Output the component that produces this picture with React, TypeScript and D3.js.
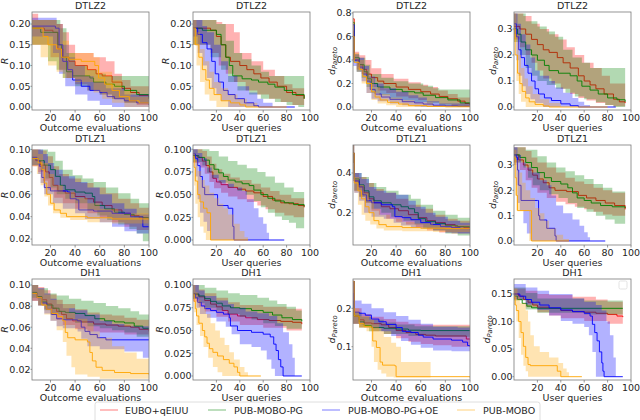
import React from "react";
import * as d3 from "d3";

type Pt = [number, number];

const METHODS = ["EUBO+qEIUU", "PUB-MOBO-PG", "PUB-MOBO-PG+OE", "PUB-MOBO"];
const LINE_COLORS = ["#ff0000", "#008000", "#0000ff", "#ffa500"];
const TITLES = ["DTLZ2", "DTLZ1", "DH1"];
const X_LABELS = ["Outcome evaluations", "User queries", "Outcome evaluations", "User queries"];
const X_TICKS = [20, 40, 60, 80, 100];

// ---- DTLZ2, outcome evaluations, R ----
const dtlz2EvalR_mean: Pt[][] = [
  [[5,.19],[15,.185],[22,.18],[26,.14],[30,.12],[35,.11],[40,.1],[50,.09],[57,.08],[62,.075],[70,.06],[78,.045],[85,.035],[92,.028],[100,.02]],
  [[5,.19],[12,.18],[26,.15],[29,.12],[33,.085],[38,.075],[52,.07],[55,.06],[65,.055],[72,.05],[80,.04],[90,.03],[100,.02]],
  [[5,.195],[24,.19],[27,.15],[30,.11],[34,.09],[38,.065],[45,.05],[52,.04],[60,.035],[66,.025],[72,.02],[80,.015],[90,.01],[100,.005]],
  [[5,.19],[14,.17],[18,.15],[25,.14],[29,.12],[35,.115],[45,.11],[56,.1],[59,.07],[64,.055],[70,.04],[76,.025],[84,.015],[92,.01],[100,.008]],
];
const dtlz2EvalR_hi: Pt[][] = [
  [[5,.225],[10,.21],[25,.2],[30,.18],[35,.15],[40,.13],[55,.12],[65,.11],[72,.08],[78,.065],[85,.05],[100,.04]],
  [[5,.21],[28,.19],[33,.13],[40,.1],[50,.09],[58,.08],[65,.075],[100,.075]],
  [[5,.215],[25,.2],[30,.15],[35,.12],[40,.1],[48,.075],[55,.06],[65,.045],[80,.03],[100,.02]],
  [[5,.21],[25,.2],[30,.16],[35,.13],[55,.12],[60,.085],[70,.065],[78,.04],[85,.025],[100,.02]],
];
const dtlz2EvalR_lo: Pt[][] = [
  [[5,.15],[20,.12],[27,.09],[33,.07],[40,.055],[50,.04],[60,.03],[70,.02],[80,.01],[90,.005],[100,0]],
  [[5,.15],[18,.11],[25,.09],[30,.07],[40,.05],[50,.04],[60,.03],[70,.02],[80,.01],[100,0]],
  [[5,.17],[22,.13],[27,.08],[32,.05],[40,.03],[50,.015],[60,.005],[70,0],[100,0]],
  [[5,.15],[12,.12],[18,.1],[25,.085],[30,.07],[40,.06],[55,.035],[62,.02],[70,.01],[80,0],[100,0]],
];

// ---- DTLZ2, user queries, R ----
const dtlz2QueryR_mean: Pt[][] = [
  [[0,.19],[15,.185],[20,.17],[24,.15],[28,.12],[32,.11],[40,.1],[46,.09],[52,.08],[58,.07],[65,.06],[72,.05],[80,.035],[88,.028],[95,.02]],
  [[0,.19],[8,.185],[20,.175],[24,.15],[28,.12],[31,.1],[34,.075],[42,.068],[50,.065],[56,.06],[64,.055],[70,.048],[78,.04],[85,.03],[95,.02]],
  [[0,.19],[4,.175],[8,.155],[12,.14],[16,.11],[19,.08],[22,.06],[26,.04],[30,.03],[36,.02],[44,.01],[52,.003],[56,0],[87,0]],
  [[0,.19],[2,.15],[5,.12],[8,.09],[11,.065],[14,.045],[18,.03],[24,.015],[32,.01],[40,.005],[45,0],[80,0]],
];
const dtlz2QueryR_hi: Pt[][] = [
  [[0,.21],[20,.205],[25,.2],[35,.18],[40,.13],[50,.11],[60,.09],[70,.075],[78,.055],[85,.045],[95,.04]],
  [[0,.21],[20,.2],[28,.16],[35,.13],[42,.115],[50,.1],[58,.085],[65,.075],[95,.075]],
  [[0,.21],[8,.195],[12,.18],[18,.15],[24,.11],[30,.075],[38,.05],[48,.035],[55,.02],[60,.01],[68,0],[87,0]],
  [[0,.21],[3,.18],[6,.14],[10,.11],[14,.085],[18,.06],[24,.045],[30,.03],[38,.02],[46,.01],[55,0],[80,0]],
];
const dtlz2QueryR_lo: Pt[][] = [
  [[0,.15],[15,.13],[22,.1],[28,.08],[35,.06],[45,.04],[55,.03],[65,.02],[75,.012],[85,.005],[95,0]],
  [[0,.15],[15,.12],[24,.09],[30,.06],[38,.04],[48,.03],[58,.02],[70,.012],[80,.005],[90,0],[95,0]],
  [[0,.17],[4,.13],[8,.1],[12,.07],[16,.045],[20,.03],[24,.015],[30,0],[87,0]],
  [[0,.15],[3,.1],[6,.06],[10,.03],[14,.015],[20,0],[80,0]],
];

// ---- DTLZ2, outcome evaluations, d_Pareto ----
const dtlz2EvalD_mean: Pt[][] = [
  [[5,.75],[6,.4],[10,.36],[13,.32],[16,.28],[20,.25],[25,.22],[30,.2],[40,.17],[50,.15],[60,.13],[68,.11],[75,.09],[82,.07],[90,.05],[96,.03],[100,.02]],
  [[5,.72],[6,.42],[10,.36],[14,.3],[17,.24],[20,.2],[25,.17],[35,.15],[45,.13],[55,.12],[62,.1],[72,.08],[82,.06],[92,.035],[100,.02]],
  [[5,.7],[6,.4],[10,.34],[13,.28],[16,.22],[19,.15],[23,.11],[28,.085],[35,.065],[45,.045],[55,.035],[62,.025],[70,.015],[80,.01],[90,.007],[100,.005]],
  [[5,.6],[6,.38],[10,.32],[13,.26],[16,.2],[20,.13],[23,.085],[27,.06],[33,.04],[42,.025],[50,.012],[65,.005],[80,.002],[100,0]],
];
const dtlz2EvalD_hi: Pt[][] = [
  [[5,.65],[6,.47],[10,.44],[15,.4],[20,.33],[28,.28],[38,.24],[50,.21],[60,.19],[66,.17],[74,.14],[82,.11],[90,.08],[100,.05]],
  [[5,.6],[6,.45],[10,.42],[15,.36],[19,.28],[28,.25],[38,.22],[50,.2],[62,.18],[70,.16],[75,.15],[100,.15]],
  [[5,.6],[6,.45],[10,.42],[14,.35],[18,.26],[23,.2],[30,.16],[40,.13],[50,.1],[58,.08],[65,.05],[75,.03],[100,.02]],
  [[5,.75],[6,.46],[10,.4],[14,.32],[18,.25],[22,.17],[27,.11],[35,.08],[45,.06],[55,.04],[70,.02],[100,.01]],
];
const dtlz2EvalD_lo: Pt[][] = [
  [[5,.4],[8,.32],[12,.28],[16,.22],[20,.17],[25,.14],[32,.12],[40,.09],[50,.075],[58,.06],[65,.04],[75,.025],[85,.01],[95,0],[100,0]],
  [[5,.38],[8,.3],[12,.25],[16,.17],[20,.12],[26,.1],[35,.07],[45,.055],[55,.04],[65,.03],[75,.015],[85,.005],[90,0],[100,0]],
  [[5,.35],[8,.3],[12,.22],[16,.12],[20,.07],[25,.05],[35,.03],[45,.015],[55,.005],[60,0],[100,0]],
  [[5,.4],[8,.3],[12,.2],[16,.12],[20,.06],[25,.03],[32,.015],[40,0],[100,0]],
];

// ---- DTLZ2, user queries, d_Pareto ----
const dtlz2QueryD_mean: Pt[][] = [
  [[0,.31],[5,.3],[10,.28],[15,.26],[20,.24],[25,.22],[30,.21],[37,.19],[42,.17],[48,.15],[55,.12],[60,.1],[65,.085],[70,.07],[77,.05],[85,.03],[90,.02],[95,.015]],
  [[0,.3],[3,.28],[6,.25],[10,.22],[15,.2],[20,.18],[26,.16],[30,.14],[38,.13],[48,.12],[54,.1],[58,.08],[65,.065],[72,.05],[80,.035],[88,.028],[95,.02]],
  [[0,.32],[2,.27],[4,.22],[6,.19],[9,.16],[12,.13],[15,.1],[18,.07],[21,.05],[26,.035],[32,.025],[40,.012],[48,.005],[55,0],[87,0]],
  [[0,.3],[1,.2],[3,.13],[5,.09],[7,.06],[10,.035],[13,.02],[18,.01],[25,.004],[30,0],[80,0]],
];
const dtlz2QueryD_hi: Pt[][] = [
  [[0,.36],[8,.35],[15,.32],[22,.3],[30,.28],[38,.26],[45,.23],[52,.2],[60,.17],[68,.15],[75,.12],[82,.09],[95,.08]],
  [[0,.36],[10,.33],[20,.31],[28,.29],[35,.27],[42,.22],[50,.19],[58,.17],[65,.15],[95,.15]],
  [[0,.36],[3,.32],[6,.28],[10,.24],[14,.19],[18,.14],[22,.12],[30,.1],[35,.075],[42,.055],[50,.035],[55,.02],[60,.008],[65,0],[87,0]],
  [[0,.36],[2,.28],[4,.2],[6,.15],[9,.11],[12,.08],[16,.05],[22,.03],[30,.015],[40,0],[80,0]],
];
const dtlz2QueryD_lo: Pt[][] = [
  [[0,.26],[5,.23],[10,.2],[15,.17],[20,.14],[25,.11],[32,.09],[40,.07],[48,.05],[55,.035],[62,.025],[70,.015],[78,.008],[85,.003],[95,0]],
  [[0,.25],[5,.2],[10,.15],[15,.12],[20,.1],[28,.085],[36,.07],[44,.055],[52,.04],[60,.03],[70,.018],[78,.008],[85,0],[95,0]],
  [[0,.28],[2,.18],[4,.12],[7,.08],[10,.05],[14,.03],[18,.015],[25,0],[87,0]],
  [[0,.25],[2,.1],[4,.05],[6,.02],[10,0],[80,0]],
];

// ---- DTLZ1, outcome evaluations, R ----
const dtlz1EvalR_mean: Pt[][] = [
  [[5,.092],[8,.09],[12,.086],[16,.08],[19,.075],[22,.068],[26,.063],[32,.061],[40,.058],[48,.056],[55,.053],[62,.05],[70,.046],[78,.043],[85,.041],[92,.039],[100,.037]],
  [[5,.092],[10,.09],[15,.086],[20,.082],[24,.076],[28,.068],[32,.064],[40,.062],[48,.061],[54,.058],[56,.05],[64,.047],[72,.044],[80,.042],[88,.04],[95,.039],[100,.037]],
  [[5,.093],[9,.09],[11,.085],[13,.075],[15,.066],[20,.063],[34,.062],[36,.056],[41,.055],[43,.046],[55,.045],[70,.043],[85,.04],[95,.031],[100,.031]],
  [[5,.092],[10,.088],[13,.082],[15,.07],[17,.06],[20,.052],[23,.046],[28,.043],[33,.04],[50,.039],[70,.038],[100,.037]],
];
const dtlz1EvalR_hi: Pt[][] = [
  [[5,.1],[12,.099],[17,.094],[22,.085],[27,.078],[35,.074],[45,.07],[55,.066],[65,.061],[75,.056],[85,.052],[92,.048],[100,.045]],
  [[5,.1],[18,.098],[24,.09],[30,.082],[38,.077],[46,.074],[55,.071],[65,.066],[75,.061],[85,.056],[92,.052],[100,.05]],
  [[5,.1],[14,.096],[18,.088],[23,.082],[30,.076],[40,.071],[50,.066],[60,.06],[70,.052],[80,.047],[90,.042],[100,.038]],
  [[5,.1],[10,.096],[14,.088],[18,.078],[23,.068],[30,.062],[40,.057],[50,.052],[60,.047],[75,.043],[100,.041]],
];
const dtlz1EvalR_lo: Pt[][] = [
  [[5,.085],[10,.08],[14,.072],[18,.064],[23,.057],[30,.052],[40,.047],[50,.043],[60,.039],[70,.035],[80,.031],[90,.028],[100,.025]],
  [[5,.086],[12,.081],[16,.074],[20,.066],[25,.06],[32,.056],[40,.052],[50,.046],[58,.041],[66,.037],[75,.033],[84,.029],[90,.025],[95,.018],[100,.015]],
  [[5,.086],[10,.078],[12,.07],[15,.06],[22,.052],[30,.047],[40,.043],[48,.038],[60,.035],[70,.031],[80,.027],[90,.025],[100,.024]],
  [[5,.085],[9,.078],[12,.068],[15,.058],[18,.05],[22,.043],[28,.039],[36,.037],[50,.035],[70,.034],[100,.033]],
];

// ---- DTLZ1, user queries, R ----
const dtlz1QueryR_mean: Pt[][] = [
  [[0,.093],[4,.091],[8,.087],[11,.082],[14,.075],[17,.068],[20,.064],[24,.061],[30,.058],[38,.056],[45,.054],[52,.052],[60,.048],[68,.044],[75,.041],[82,.04],[90,.038],[95,.036]],
  [[0,.093],[5,.091],[10,.088],[14,.083],[18,.078],[22,.074],[26,.07],[30,.066],[36,.064],[42,.062],[48,.06],[52,.055],[58,.05],[64,.046],[70,.043],[78,.041],[86,.039],[95,.037]],
  [[0,.095],[2,.09],[4,.082],[6,.07],[8,.058],[10,.05],[21,.038],[30,.035],[34,.015],[35,0],[78,0]],
  [[0,.092],[1,.08],[2,.065],[4,.05],[6,.042],[9,.035],[12,.03],[15,0],[47,0]],
];
const dtlz1QueryR_hi: Pt[][] = [
  [[0,.1],[8,.098],[12,.092],[16,.084],[20,.078],[25,.073],[32,.069],[40,.066],[50,.062],[58,.058],[66,.054],[74,.05],[84,.046],[95,.043]],
  [[0,.1],[14,.098],[22,.092],[30,.087],[38,.083],[46,.079],[55,.075],[62,.07],[70,.063],[78,.058],[86,.053],[95,.05]],
  [[0,.1],[4,.096],[8,.09],[12,.08],[16,.072],[22,.066],[28,.062],[35,.058],[42,.054],[46,.045],[52,.035],[56,.025],[60,.018],[63,.008],[65,0],[78,0]],
  [[0,.096],[2,.088],[4,.076],[7,.066],[10,.06],[14,.052],[18,.046],[22,.04],[26,.035],[30,.028],[35,.018],[40,.01],[44,.003],[47,0]],
];
const dtlz1QueryR_lo: Pt[][] = [
  [[0,.085],[6,.08],[10,.073],[14,.064],[18,.057],[24,.052],[30,.048],[38,.045],[46,.042],[55,.038],[62,.034],[70,.03],[78,.027],[86,.025],[95,.023]],
  [[0,.086],[8,.082],[12,.074],[16,.068],[22,.063],[30,.058],[38,.054],[45,.05],[52,.043],[58,.036],[64,.03],[70,.026],[76,.022],[82,.019],[88,.013],[95,.012]],
  [[0,.09],[2,.07],[4,.045],[6,.03],[9,.02],[12,.01],[15,0],[78,0]],
  [[0,.09],[1,.06],[2,.04],[4,.025],[6,.015],[9,.008],[11,0],[47,0]],
];

// ---- DTLZ1, outcome evaluations, d_Pareto ----
const dtlz1EvalD_mean: Pt[][] = [
  [[5,.5],[6,.36],[10,.33],[14,.3],[18,.27],[22,.25],[28,.23],[35,.22],[42,.21],[50,.19],[58,.175],[65,.16],[72,.15],[80,.14],[88,.13],[95,.125],[100,.12]],
  [[5,.5],[6,.37],[10,.34],[14,.31],[18,.28],[22,.26],[28,.25],[36,.24],[44,.23],[50,.22],[55,.2],[58,.17],[64,.155],[72,.145],[80,.135],[90,.13],[100,.12]],
  [[5,.5],[6,.36],[10,.33],[13,.29],[16,.26],[20,.25],[28,.24],[37,.23],[39,.18],[45,.175],[52,.165],[60,.15],[68,.14],[76,.13],[85,.125],[92,.12],[100,.115]],
  [[5,.5],[6,.35],[9,.31],[12,.27],[15,.23],[18,.2],[22,.16],[26,.14],[32,.13],[45,.125],[60,.122],[80,.12],[100,.118]],
];
const dtlz1EvalD_hi: Pt[][] = [
  [[5,.55],[6,.4],[10,.38],[16,.35],[22,.32],[30,.3],[40,.27],[50,.24],[60,.22],[70,.19],[80,.17],[90,.16],[100,.15]],
  [[5,.55],[6,.4],[12,.38],[18,.35],[24,.33],[32,.31],[42,.29],[52,.27],[60,.24],[70,.21],[80,.19],[90,.175],[100,.165]],
  [[5,.55],[6,.4],[12,.37],[18,.33],[24,.31],[32,.3],[40,.29],[50,.26],[56,.23],[64,.2],[72,.18],[82,.16],[92,.15],[100,.14]],
  [[5,.55],[6,.38],[10,.34],[14,.3],[18,.26],[22,.22],[27,.19],[35,.17],[45,.155],[55,.145],[70,.138],[100,.13]],
];
const dtlz1EvalD_lo: Pt[][] = [
  [[5,.45],[6,.31],[10,.28],[15,.25],[20,.21],[26,.19],[32,.17],[40,.155],[48,.14],[56,.125],[65,.11],[75,.1],[85,.095],[100,.09]],
  [[5,.45],[6,.31],[10,.28],[15,.25],[20,.22],[28,.2],[36,.18],[46,.16],[55,.14],[62,.12],[70,.11],[80,.095],[90,.085],[100,.08]],
  [[5,.45],[6,.3],[10,.26],[14,.2],[20,.18],[30,.17],[38,.15],[44,.135],[52,.125],[60,.12],[70,.11],[80,.1],[90,.095],[100,.09]],
  [[5,.45],[6,.3],[9,.24],[12,.19],[15,.16],[19,.14],[24,.12],[30,.11],[45,.106],[70,.103],[100,.1]],
];

// ---- DTLZ1, user queries, d_Pareto ----
const dtlz1QueryD_mean: Pt[][] = [
  [[0,.34],[4,.32],[8,.3],[12,.28],[16,.26],[20,.245],[25,.23],[30,.21],[35,.2],[45,.195],[55,.18],[62,.17],[70,.16],[78,.15],[86,.14],[95,.125]],
  [[0,.34],[5,.33],[10,.31],[15,.29],[20,.27],[26,.25],[32,.235],[40,.225],[46,.21],[50,.19],[54,.17],[60,.16],[66,.15],[74,.14],[84,.135],[95,.13]],
  [[0,.34],[2,.33],[3,.28],[4,.22],[6,.16],[20,.16],[21,.1],[22,.083],[28,.05],[35,.02],[36,0],[78,0]],
  [[0,.33],[1,.25],[2,.18],[3,.12],[13,.12],[15,0],[47,0]],
];
const dtlz1QueryD_hi: Pt[][] = [
  [[0,.37],[10,.355],[15,.33],[20,.31],[28,.29],[36,.27],[44,.25],[52,.235],[60,.225],[68,.21],[76,.2],[84,.19],[95,.18]],
  [[0,.37],[10,.36],[20,.335],[28,.31],[36,.29],[44,.275],[52,.26],[60,.245],[68,.225],[76,.21],[84,.195],[95,.18]],
  [[0,.37],[3,.34],[6,.31],[10,.29],[15,.27],[22,.24],[28,.22],[32,.18],[36,.14],[42,.11],[50,.085],[56,.06],[60,.035],[63,.015],[65,0],[78,0]],
  [[0,.36],[2,.32],[4,.27],[7,.23],[10,.2],[14,.17],[18,.13],[22,.11],[26,.08],[30,.05],[36,.025],[42,.008],[47,0]],
];
const dtlz1QueryD_lo: Pt[][] = [
  [[0,.31],[5,.28],[10,.24],[15,.21],[20,.19],[28,.17],[36,.155],[44,.145],[52,.135],[60,.125],[68,.115],[76,.105],[84,.1],[95,.09]],
  [[0,.31],[8,.29],[12,.25],[16,.22],[22,.2],[30,.185],[38,.17],[46,.15],[54,.13],[62,.115],[70,.1],[78,.085],[86,.068],[95,.055]],
  [[0,.3],[2,.22],[3,.15],[5,.12],[8,.07],[11,.03],[14,.005],[15,0],[78,0]],
  [[0,.3],[1,.18],[2,.12],[12,.12],[13,0],[47,0]],
];

// ---- DH1, outcome evaluations, R ----
const dh1EvalR_mean: Pt[][] = [
  [[5,.092],[9,.089],[13,.086],[17,.082],[21,.078],[25,.075],[29,.072],[33,.068],[38,.066],[45,.065],[55,.063],[65,.062],[75,.061],[85,.06],[92,.058],[100,.056]],
  [[5,.093],[9,.089],[13,.084],[17,.081],[22,.078],[27,.075],[32,.074],[40,.073],[48,.071],[56,.068],[64,.066],[72,.065],[80,.064],[88,.061],[95,.059],[100,.058]],
  [[5,.092],[9,.088],[13,.083],[17,.077],[21,.072],[25,.068],[30,.067],[42,.066],[45,.06],[48,.056],[52,.053],[58,.05],[65,.048],[100,.048]],
  [[5,.092],[9,.088],[13,.081],[17,.077],[21,.073],[26,.07],[30,.066],[32,.055],[34,.05],[40,.048],[50,.046],[52,.036],[54,.028],[57,.022],[62,.019],[72,.017],[85,.016],[100,.015]],
];
const dh1EvalR_hi: Pt[][] = [
  [[5,.1],[10,.098],[15,.095],[20,.091],[25,.086],[30,.082],[40,.077],[50,.074],[60,.072],[70,.071],[80,.069],[90,.067],[100,.066]],
  [[5,.1],[10,.097],[18,.092],[25,.09],[35,.087],[45,.085],[55,.083],[65,.08],[75,.078],[85,.075],[92,.072],[100,.07]],
  [[5,.1],[10,.097],[15,.092],[20,.087],[25,.082],[30,.078],[40,.076],[50,.072],[60,.066],[70,.063],[80,.061],[100,.06]],
  [[5,.1],[10,.096],[15,.091],[20,.086],[25,.082],[30,.078],[35,.074],[40,.068],[50,.064],[55,.056],[60,.05],[70,.042],[80,.036],[90,.03],[100,.026]],
];
const dh1EvalR_lo: Pt[][] = [
  [[5,.085],[10,.081],[15,.077],[20,.072],[25,.067],[30,.062],[40,.058],[50,.056],[60,.055],[80,.053],[100,.05]],
  [[5,.088],[10,.081],[15,.076],[20,.072],[30,.067],[40,.064],[50,.061],[60,.059],[70,.057],[80,.055],[90,.051],[100,.048]],
  [[5,.085],[10,.08],[15,.073],[20,.066],[25,.061],[30,.059],[42,.056],[45,.049],[50,.042],[60,.039],[80,.037],[95,.031],[100,.03]],
  [[5,.085],[10,.08],[15,.072],[20,.066],[25,.057],[30,.046],[33,.033],[37,.022],[40,.015],[50,.013],[60,.011],[100,.011]],
];

// ---- DH1, user queries, R ----
const dh1QueryR_mean: Pt[][] = [
  [[0,.09],[5,.087],[10,.083],[15,.079],[20,.076],[25,.072],[30,.068],[38,.066],[45,.064],[55,.062],[65,.061],[75,.06],[85,.059],[93,.057]],
  [[0,.09],[5,.088],[10,.085],[15,.082],[20,.08],[25,.077],[32,.075],[40,.074],[50,.072],[60,.07],[68,.067],[76,.064],[85,.062],[93,.06]],
  [[0,.09],[2,.086],[4,.081],[7,.077],[10,.074],[15,.072],[20,.07],[26,.068],[31,.064],[32,.055],[38,.05],[50,.048],[60,.046],[66,.043],[69,.035],[71,.028],[73,.018],[75,.01],[77,0],[93,0]],
  [[0,.09],[1,.082],[2,.074],[3,.066],[5,.058],[8,.05],[10,.043],[12,.036],[14,.03],[17,.026],[21,.022],[26,.018],[31,.014],[35,.01],[38,.004],[40,0],[58,0]],
];
const dh1QueryR_hi: Pt[][] = [
  [[0,.1],[5,.095],[10,.091],[20,.086],[30,.081],[40,.078],[60,.076],[80,.074],[93,.071]],
  [[0,.1],[10,.097],[20,.094],[30,.091],[40,.089],[55,.086],[65,.083],[72,.079],[80,.076],[88,.072],[93,.07]],
  [[0,.1],[5,.094],[10,.088],[20,.083],[30,.079],[35,.075],[45,.071],[55,.069],[65,.066],[72,.058],[77,.048],[82,.035],[85,.02],[87,0],[93,0]],
  [[0,.1],[2,.092],[4,.083],[7,.076],[11,.068],[15,.058],[19,.05],[23,.042],[27,.034],[31,.026],[35,.018],[40,.01],[44,.004],[47,0],[58,0]],
];
const dh1QueryR_lo: Pt[][] = [
  [[0,.082],[5,.076],[10,.071],[20,.065],[30,.06],[40,.056],[60,.053],[80,.05],[93,.048]],
  [[0,.085],[5,.08],[10,.075],[20,.072],[30,.068],[40,.065],[50,.062],[60,.058],[70,.055],[80,.052],[93,.05]],
  [[0,.085],[3,.075],[6,.068],[12,.064],[20,.06],[28,.054],[33,.046],[40,.035],[50,.032],[58,.028],[63,.018],[67,.008],[70,0],[93,0]],
  [[0,.085],[1,.07],[3,.056],[6,.044],[9,.032],[13,.02],[17,.01],[21,.004],[25,0],[58,0]],
];

// ---- DH1, outcome evaluations, d_Pareto ----
const dh1EvalD_mean: Pt[][] = [
  [[5,.27],[6,.18],[10,.17],[14,.162],[20,.16],[28,.157],[34,.15],[40,.142],[48,.137],[56,.132],[64,.13],[72,.128],[96,.128],[97,.12],[100,.12]],
  [[5,.27],[6,.18],[10,.165],[14,.155],[20,.15],[30,.148],[40,.146],[50,.143],[60,.142],[100,.142]],
  [[5,.27],[6,.19],[10,.187],[15,.182],[20,.172],[26,.165],[32,.158],[40,.15],[45,.14],[52,.137],[58,.13],[62,.125],[70,.12],[85,.117],[94,.112],[98,.103],[100,.1]],
  [[5,.27],[6,.18],[10,.16],[14,.152],[20,.15],[21,.115],[24,.098],[27,.06],[29,.052],[39,.05],[40,.022],[100,.02]],
];
const dh1EvalD_hi: Pt[][] = [
  [[5,.27],[6,.2],[12,.185],[20,.178],[30,.172],[40,.165],[50,.16],[60,.157],[100,.155]],
  [[5,.22],[6,.19],[12,.178],[20,.17],[30,.163],[40,.158],[55,.153],[100,.15]],
  [[5,.24],[6,.22],[12,.212],[20,.2],[30,.19],[40,.18],[50,.17],[60,.16],[70,.152],[90,.15],[100,.143]],
  [[5,.2],[10,.18],[18,.17],[22,.16],[26,.14],[30,.125],[36,.11],[40,.1],[44,.06],[67,.06],[68,.02],[100,.02]],
];
const dh1EvalD_lo: Pt[][] = [
  [[5,.16],[10,.15],[20,.14],[30,.133],[40,.122],[50,.113],[60,.107],[70,.104],[85,.1],[100,.095]],
  [[5,.16],[10,.15],[18,.14],[30,.133],[50,.128],[70,.126],[100,.125]],
  [[5,.16],[12,.157],[20,.148],[28,.14],[36,.128],[44,.115],[52,.105],[60,.097],[70,.09],[85,.088],[100,.085]],
  [[5,.16],[10,.15],[16,.14],[20,.1],[22,.06],[25,.04],[28,.03],[32,.022],[38,.02],[100,.02]],
];

// ---- DH1, user queries, d_Pareto ----
const dh1QueryD_mean: Pt[][] = [
  [[0,.15],[4,.146],[8,.14],[12,.135],[16,.13],[20,.126],[30,.124],[40,.12],[50,.118],[60,.117],[70,.115],[80,.113],[88,.11],[93,.108]],
  [[0,.146],[3,.14],[7,.133],[11,.128],[15,.125],[20,.124],[93,.124]],
  [[0,.15],[5,.146],[10,.14],[15,.135],[22,.13],[30,.125],[40,.121],[50,.118],[60,.115],[65,.11],[67,.095],[69,.08],[71,.065],[73,.045],[75,.025],[76,.01],[77,0],[93,0]],
  [[0,.145],[1,.13],[2,.12],[4,.1],[6,.08],[8,.055],[10,.035],[12,.022],[14,.02],[35,.02],[37,.01],[40,0],[58,0]],
];
const dh1QueryD_hi: Pt[][] = [
  [[0,.16],[10,.156],[20,.15],[30,.148],[50,.145],[70,.14],[80,.136],[93,.132]],
  [[0,.162],[10,.152],[20,.142],[60,.138],[93,.135]],
  [[0,.168],[10,.162],[20,.156],[30,.15],[50,.142],[60,.136],[70,.13],[75,.12],[79,.1],[82,.075],[85,.035],[87,0],[93,0]],
  [[0,.16],[3,.145],[5,.133],[10,.12],[12,.1],[14,.075],[17,.055],[22,.045],[30,.035],[38,.025],[42,.015],[45,.008],[47,0],[58,0]],
];
const dh1QueryD_lo: Pt[][] = [
  [[0,.14],[10,.126],[20,.117],[30,.111],[40,.106],[60,.101],[80,.096],[93,.092]],
  [[0,.138],[10,.122],[20,.116],[60,.113],[93,.11]],
  [[0,.14],[10,.131],[20,.121],[30,.111],[40,.101],[50,.096],[60,.09],[64,.075],[67,.045],[70,0],[93,0]],
  [[0,.13],[2,.1],[4,.07],[6,.04],[8,.02],[10,.01],[12,0],[58,0]],
];

type PanelDef = {
  row: number;
  col: number;
  yDomain: [number, number];
  yTicks: number[];
  fmt: string;
  mean: Pt[][];
  hi: Pt[][];
  lo: Pt[][];
};

const PANELS: PanelDef[] = [
  { row: 0, col: 0, yDomain: [-0.0072, 0.229], yTicks: [0, 0.05, 0.1, 0.15, 0.2], fmt: ".2f", mean: dtlz2EvalR_mean, hi: dtlz2EvalR_hi, lo: dtlz2EvalR_lo },
  { row: 0, col: 1, yDomain: [-0.0072, 0.229], yTicks: [0, 0.05, 0.1, 0.15, 0.2], fmt: ".2f", mean: dtlz2QueryR_mean, hi: dtlz2QueryR_hi, lo: dtlz2QueryR_lo },
  { row: 0, col: 2, yDomain: [-0.0255, 0.8085], yTicks: [0, 0.2, 0.4, 0.6, 0.8], fmt: ".1f", mean: dtlz2EvalD_mean, hi: dtlz2EvalD_hi, lo: dtlz2EvalD_lo },
  { row: 0, col: 3, yDomain: [-0.0115, 0.3654], yTicks: [0, 0.1, 0.2, 0.3], fmt: ".1f", mean: dtlz2QueryD_mean, hi: dtlz2QueryD_hi, lo: dtlz2QueryD_lo },
  { row: 1, col: 0, yDomain: [0.0147, 0.104], yTicks: [0.02, 0.04, 0.06, 0.08, 0.1], fmt: ".2f", mean: dtlz1EvalR_mean, hi: dtlz1EvalR_hi, lo: dtlz1EvalR_lo },
  { row: 1, col: 1, yDomain: [-0.0055, 0.1047], yTicks: [0, 0.025, 0.05, 0.075, 0.1], fmt: ".3f", mean: dtlz1QueryR_mean, hi: dtlz1QueryR_hi, lo: dtlz1QueryR_lo },
  { row: 1, col: 2, yDomain: [0.0373, 0.541], yTicks: [0.2, 0.4], fmt: ".1f", mean: dtlz1EvalD_mean, hi: dtlz1EvalD_hi, lo: dtlz1EvalD_lo },
  { row: 1, col: 3, yDomain: [-0.0158, 0.379], yTicks: [0, 0.1, 0.2, 0.3], fmt: ".1f", mean: dtlz1QueryD_mean, hi: dtlz1QueryD_hi, lo: dtlz1QueryD_lo },
  { row: 2, col: 0, yDomain: [0.0099, 0.1057], yTicks: [0.02, 0.04, 0.06, 0.08, 0.1], fmt: ".2f", mean: dh1EvalR_mean, hi: dh1EvalR_hi, lo: dh1EvalR_lo },
  { row: 2, col: 1, yDomain: [-0.0044, 0.1066], yTicks: [0, 0.025, 0.05, 0.075, 0.1], fmt: ".3f", mean: dh1QueryR_mean, hi: dh1QueryR_hi, lo: dh1QueryR_lo },
  { row: 2, col: 2, yDomain: [0.0133, 0.2763], yTicks: [0.1, 0.2], fmt: ".1f", mean: dh1EvalD_mean, hi: dh1EvalD_hi, lo: dh1EvalD_lo },
  { row: 2, col: 3, yDomain: [-0.006, 0.1772], yTicks: [0, 0.05, 0.1, 0.15], fmt: ".2f", mean: dh1QueryD_mean, hi: dh1QueryD_hi, lo: dh1QueryD_lo },
];

// layout
const W = 640;
const H = 420;
const COL_X = [32, 193, 353, 514];
const PANEL_W = 117;
const ROW_TOP = [12, 145, 279];
const ROW_BOTTOM = [110, 245, 380];
const FONT = "DejaVu Sans, sans-serif";
const FS = 9.5;
const TEXT = "#262626";
const SPINE = "#7a7a7a";

const stepAt = (pts: Pt[], x: number) => {
  let v = pts[0][1];
  for (const p of pts) {
    if (p[0] <= x) v = p[1];
    else break;
  }
  return v;
};

// rough DejaVu Sans width of a numeric label
const labelWidth = (s: string) =>
  s.split("").reduce((a, c) => a + (c === "." ? 0.318 : 0.636), 0) * FS;

function Panel({ p, idx }: { p: PanelDef; idx: number }) {
  const left = COL_X[p.col];
  const right = left + PANEL_W;
  const top = ROW_TOP[p.row];
  const bottom = ROW_BOTTOM[p.row];
  const isQuery = p.col % 2 === 1;
  const x = d3.scaleLinear().domain(isQuery ? [0, 100] : [5, 100]).range([left, right]);
  const y = d3.scaleLinear().domain(p.yDomain).range([bottom, top]);
  const fmt = d3.format(p.fmt);

  const line = d3
    .line<Pt>()
    .x((d) => x(d[0]))
    .y((d) => y(d[1]))
    .curve(d3.curveStepAfter);

  const area = d3
    .area<[number, number, number]>()
    .x((d) => x(d[0]))
    .y0((d) => y(d[1]))
    .y1((d) => y(d[2]))
    .curve(d3.curveStepAfter);

  const bandRows = (lo: Pt[], hi: Pt[]) => {
    const xs = Array.from(new Set([...lo.map((d) => d[0]), ...hi.map((d) => d[0])])).sort((a, b) => a - b);
    return xs.map((xv) => [xv, stepAt(lo, xv), stepAt(hi, xv)] as [number, number, number]);
  };

  const clipId = `clip-${idx}`;
  const tickRight = left - 1.5;
  const tickW = Math.max(...p.yTicks.map((t) => labelWidth(fmt(t))));
  const yLabX = tickRight - tickW - 1;
  const yMid = (top + bottom) / 2;

  return (
    <g>
      <defs>
        <clipPath id={clipId}>
          <rect x={left} y={top} width={PANEL_W} height={bottom - top} />
        </clipPath>
      </defs>
      <g clipPath={`url(#${clipId})`}>
        {p.mean.map((m, i) => (
          <g key={i}>
            <path d={area(bandRows(p.lo[i], p.hi[i])) ?? ""} fill={LINE_COLORS[i]} fillOpacity={0.3} stroke="none" />
            <path d={line(m) ?? ""} fill="none" stroke={LINE_COLORS[i]} strokeWidth={0.9} />
          </g>
        ))}
      </g>
      <rect x={left} y={top} width={PANEL_W} height={bottom - top} fill="none" stroke={SPINE} strokeWidth={0.8} />
      {/* y axis */}
      {p.yTicks.map((t) => (
        <g key={t}>
          <line x1={left - 1.5} x2={left} y1={y(t)} y2={y(t)} stroke={SPINE} strokeWidth={0.8} />
          <text x={tickRight} y={y(t)} dy="0.35em" textAnchor="end" fontSize={FS} fill={TEXT}>
            {fmt(t)}
          </text>
        </g>
      ))}
      {/* x axis */}
      {X_TICKS.map((t) => (
        <g key={t}>
          <line x1={x(t)} x2={x(t)} y1={bottom} y2={bottom + 2.5} stroke={SPINE} strokeWidth={0.8} />
          <text x={x(t)} y={bottom + 11} textAnchor="middle" fontSize={FS} fill={TEXT}>
            {t}
          </text>
        </g>
      ))}
      <text x={(left + right) / 2} y={bottom + 20.5} textAnchor="middle" fontSize={FS} fill={TEXT}>
        {X_LABELS[p.col]}
      </text>
      <text x={(left + right) / 2} y={top - 3} textAnchor="middle" fontSize={FS} fill={TEXT}>
        {TITLES[p.row]}
      </text>
      {p.col < 2 ? (
        <text transform={`translate(${yLabX},${yMid}) rotate(-90)`} textAnchor="middle" fontSize={FS} fontStyle="italic" fill={TEXT}>
          R
        </text>
      ) : (
        <text transform={`translate(${yLabX},${yMid}) rotate(-90)`} textAnchor="middle" fontSize={FS} fontStyle="italic" fill={TEXT}>
          <tspan>d</tspan>
          <tspan fontSize={6.8} dy={2}>Pareto</tspan>
        </text>
      )}
    </g>
  );
}

export default function App() {
  const legendLineX = [100, 208, 322, 457];
  const legendTextX = [125, 234, 348, 483];
  return (
    <svg
      width={W}
      height={H}
      viewBox={`0 0 ${W} ${H}`}
      style={{ position: "absolute", left: 0, top: 0, background: "#fff" }}
      fontFamily={FONT}
    >
      <rect x={0} y={0} width={W} height={H} fill="#fff" />
      {PANELS.map((p, i) => (
        <Panel key={i} p={p} idx={i} />
      ))}
      {/* empty legend frame in the last panel */}
      <rect x={619} y={281} width={8} height={8} rx={1.5} fill="#fff" stroke="#dcdcdc" strokeWidth={0.8} />
      {/* figure legend */}
      <rect x={95} y={402} width={445} height={24} rx={2.5} fill="#fff" stroke="#d6d6d6" strokeWidth={0.8} />
      {METHODS.map((m, i) => (
        <g key={m}>
          <line x1={legendLineX[i]} x2={legendLineX[i] + 18} y1={410} y2={410} stroke={LINE_COLORS[i]} strokeOpacity={0.35} strokeWidth={1.5} />
          <text x={legendTextX[i]} y={413.5} fontSize={FS} fill={TEXT}>
            {m}
          </text>
        </g>
      ))}
    </svg>
  );
}
